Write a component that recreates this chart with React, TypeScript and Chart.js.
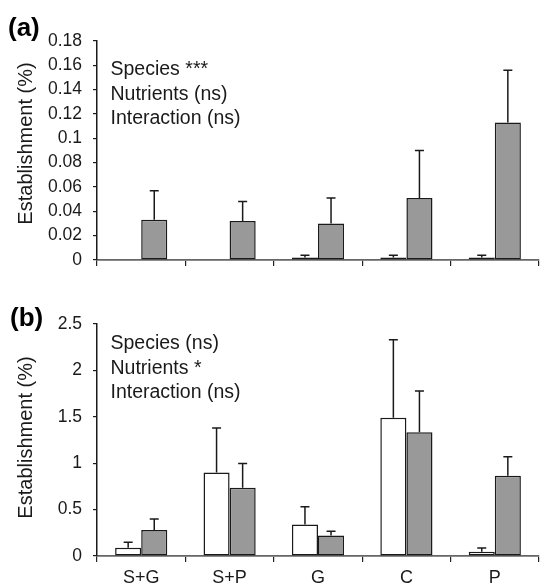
import React, { useEffect, useRef } from 'react';
import { Chart, registerables } from 'chart.js';
Chart.register(...registerables);

const categories = ['S+G', 'S+P', 'G', 'C', 'P'];

// Panel (a)
const aWhite = [0, 0, 0.002, 0.002, 0.002];
const aWhiteErr = [0, 0, 0.002, 0.002, 0.002];
const aGray = [0.033, 0.032, 0.030, 0.051, 0.113];
const aGrayErr = [0.024, 0.016, 0.021, 0.039, 0.043];
const aTicks = ['0', '0.02', '0.04', '0.06', '0.08', '0.1', '0.12', '0.14', '0.16', '0.18'];
const aNotes = ['Species ***', 'Nutrients (ns)', 'Interaction (ns)'];

// Panel (b)
const bWhite = [0.09, 0.90, 0.34, 1.49, 0.047];
const bWhiteErr = [0.058, 0.48, 0.19, 0.84, 0.039];
const bGray = [0.28, 0.736, 0.22, 1.333, 0.865];
const bGrayErr = [0.12, 0.26, 0.046, 0.445, 0.205];
const bTicks = ['0', '0.5', '1', '1.5', '2', '2.5'];
const bNotes = ['Species (ns)', 'Nutrients *', 'Interaction (ns)'];

const yTitle = 'Establishment (%)';

const FONT = "'Liberation Sans', Arial, Helvetica, sans-serif";

const errorBars = {
  id: 'errorBars',
  afterDatasetsDraw(chart: any) {
    const ctx = chart.ctx;
    const ys = chart.scales.y;
    chart.data.datasets.forEach((ds: any, di: number) => {
      const meta = chart.getDatasetMeta(di);
      const errs = ds.errs || [];
      meta.data.forEach((bar: any, i: number) => {
        const e = errs[i];
        if (!e) return;
        const v = ds.data[i];
        const x = bar.x;
        const y0 = ys.getPixelForValue(v);
        const y1 = ys.getPixelForValue(v + e);
        ctx.save();
        ctx.strokeStyle = '#1a1a1a';
        ctx.lineWidth = 1.5;
        ctx.beginPath();
        ctx.moveTo(x, y0);
        ctx.lineTo(x, y1);
        ctx.moveTo(x - 4.5, y1);
        ctx.lineTo(x + 4.5, y1);
        ctx.stroke();
        ctx.restore();
      });
    });
  },
};

const notesPlugin = {
  id: 'notes',
  afterDraw(chart: any, _args: any, opts: any) {
    const ctx = chart.ctx;
    const ca = chart.chartArea;
    ctx.save();
    ctx.fillStyle = '#1a1a1a';
    ctx.textAlign = 'left';
    ctx.textBaseline = 'alphabetic';
    ctx.font = `19.5px ${FONT}`;
    (opts.lines || []).forEach((t: string, i: number) => {
      ctx.fillText(t, ca.left + opts.dx, ca.top + opts.firstBaseline + i * opts.gap);
    });
    ctx.font = `bold 26px ${FONT}`;
    ctx.fillStyle = '#000';
    ctx.fillText(opts.panel, opts.panelX, opts.panelY);
    // rotated y-axis title
    ctx.font = `20px ${FONT}`;
    ctx.fillStyle = '#1a1a1a';
    ctx.translate(opts.titleX, (ca.top + ca.bottom) / 2 + opts.titleShift);
    ctx.rotate(-Math.PI / 2);
    ctx.textAlign = 'center';
    ctx.textBaseline = 'middle';
    ctx.fillText(opts.title, 0, 0);
    ctx.restore();
  },
};

type PanelProps = {
  white: number[];
  whiteErr: number[];
  gray: number[];
  grayErr: number[];
  ticks: string[];
  max: number;
  step: number;
  notes: string[];
  panel: string;
  height: number;
  padTop: number;
  padBottom: number;
  xHeight: number;
  showX: boolean;
  firstBaseline: number;
  panelX: number;
  titleShift: number;
};

function Panel(p: PanelProps) {
  const ref = useRef<HTMLCanvasElement | null>(null);
  useEffect(() => {
    if (!ref.current) return;
    const chart = new Chart(ref.current, {
      type: 'bar',
      data: {
        labels: categories,
        datasets: [
          {
            label: 'white',
            data: p.white,
            errs: p.whiteErr,
            backgroundColor: '#ffffff',
            borderColor: '#1a1a1a',
            borderWidth: 1.5,
            borderSkipped: false,
          } as any,
          {
            label: 'gray',
            data: p.gray,
            errs: p.grayErr,
            backgroundColor: '#999999',
            borderColor: '#1a1a1a',
            borderWidth: 1.5,
            borderSkipped: false,
          } as any,
        ],
      },
      options: {
        animation: false,
        responsive: true,
        maintainAspectRatio: false,
        layout: { padding: { top: p.padTop, bottom: p.padBottom, left: 0, right: 1 } },
        datasets: { bar: { categoryPercentage: 0.59, barPercentage: 1.0 } },
        plugins: {
          legend: { display: false },
          tooltip: { enabled: false },
          notes: {
            lines: p.notes,
            dx: 13.5,
            firstBaseline: p.firstBaseline,
            gap: 24.5,
            panel: p.panel,
            panelX: p.panelX,
            panelY: 36,
            title: yTitle,
            titleX: 26,
            titleShift: p.titleShift,
          },
        } as any,
        scales: {
          x: {
            grid: {
              display: true,
              drawOnChartArea: false,
              drawTicks: true,
              tickLength: 6,
              color: '#222',
              lineWidth: 1.2,
              offset: true,
            },
            border: { display: true, color: '#666', width: 1.8 },
            ticks: {
              display: p.showX,
              color: '#1a1a1a',
              padding: 5,
              font: { family: FONT, size: 18 },
              maxRotation: 0,
            },
            afterFit: (s: any) => {
              s.height = p.xHeight;
            },
          },
          y: {
            min: 0,
            max: p.max,
            ticks: {
              stepSize: p.step,
              color: '#1a1a1a',
              padding: 11,
              font: { family: FONT, size: 17.5 },
              callback: (_v: any, i: number) => p.ticks[i],
            },
            grid: {
              display: true,
              drawOnChartArea: false,
              drawTicks: true,
              tickLength: 4,
              color: '#1a1a1a',
              lineWidth: 1.2,
            },
            border: { display: true, color: '#1a1a1a', width: 1.5 },
            title: { display: false },
            afterFit: (s: any) => {
              s.width = 97;
            },
          },
        },
      },
      plugins: [errorBars, notesPlugin],
    });
    return () => chart.destroy();
  }, []);
  return (
    <div style={{ position: 'relative', width: 540, height: p.height }}>
      <canvas ref={ref} />
    </div>
  );
}

export default function App() {
  useEffect(() => {
    document.body.style.margin = '0';
    document.body.style.background = '#ffffff';
  }, []);
  return (
    <div style={{ width: 540, height: 588, background: '#fff', overflow: 'hidden' }}>
      <Panel
        white={aWhite}
        whiteErr={aWhiteErr}
        gray={aGray}
        grayErr={aGrayErr}
        ticks={aTicks}
        max={0.18}
        step={0.02}
        notes={aNotes}
        panel="(a)"
        height={290}
        padTop={41}
        padBottom={20}
        xHeight={10}
        showX={false}
        firstBaseline={34}
        panelX={8}
        titleShift={-7}
      />
      <Panel
        white={bWhite}
        whiteErr={bWhiteErr}
        gray={bGray}
        grayErr={bGrayErr}
        ticks={bTicks}
        max={2.5}
        step={0.5}
        notes={bNotes}
        panel="(b)"
        height={298}
        padTop={34}
        padBottom={0}
        xHeight={32}
        showX={true}
        firstBaseline={25.3}
        panelX={10}
        titleShift={-2.5}
      />
    </div>
  );
}
